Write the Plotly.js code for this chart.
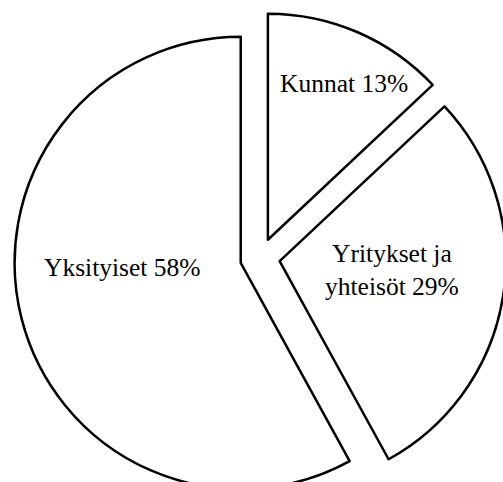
<!DOCTYPE html>
<html>
<head>
<meta charset="utf-8">
<script src="https://cdn.plot.ly/plotly-3.0.1.min.js"></script>
<style>
html,body{margin:0;padding:0;overflow:hidden;background:#fff;width:503px;height:482px;}
#chart{width:520px;height:504px;}
</style>
</head>
<body>
<div id="chart"></div>
<script>
const labels = ["Kunnat", "Yritykset ja yhteisöt", "Yksityiset"];
const values = [13, 29, 58];
const textLabels = ["Kunnat 13%", "Yritykset ja<br>yhteisöt 29%", "Yksityiset 58%"];
const pulls = [0.088, 0.088, 0.088];
// label anchor positions (paper fraction)
const labelX = [0.6615, 0.7538, 0.2365];
const labelY = [0.8547, 0.4756, 0.4797];

const trace = {
  type: "pie",
  labels: labels,
  values: values,
  textinfo: "none",
  sort: false,
  direction: "clockwise",
  rotation: 0,
  pull: pulls,
  marker: {colors: ["#ffffff", "#ffffff", "#ffffff"], line: {color: "#000000", width: 2.5}},
  hoverinfo: "none",
  domain: {x: [0, 1], y: [0, 1]}
};

const annotations = textLabels.map((t, i) => ({
  text: t,
  x: labelX[i],
  y: labelY[i],
  xref: "paper",
  yref: "paper",
  xanchor: "center",
  yanchor: "middle",
  align: "center",
  showarrow: false,
  font: {family: "Liberation Serif, serif", size: 25.5, color: "#000000"}
}));

const layout = {
  width: 520,
  height: 504,
  margin: {l: 0, r: 0, t: 12, b: 0, pad: 0},
  showlegend: false,
  paper_bgcolor: "#ffffff",
  plot_bgcolor: "#ffffff",
  annotations: annotations
};

Plotly.newPlot("chart", [trace], layout, {displayModeBar: false, staticPlot: true});
</script>
</body>
</html>
